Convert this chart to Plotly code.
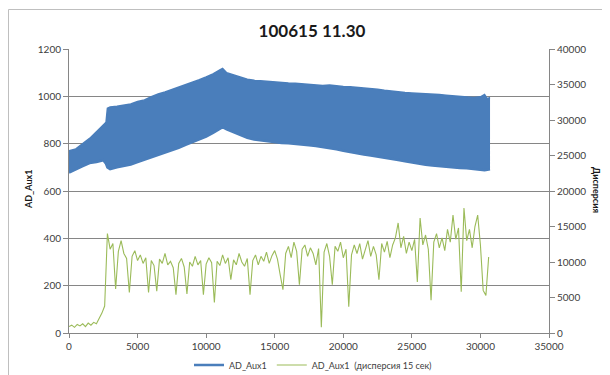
import plotly.graph_objects as go

# ---------------- data ----------------
title_text = "100615 11.30"
series_names = ["AD_Aux1", "AD_Aux1  (дисперсия 15 сек)"]

# AD_Aux1: envelope (min / max) of the dense oscillating signal
blue_x = [0, 500, 1000, 1500, 2000, 2500, 2700, 2800, 2900, 3000, 3500, 4000, 4500, 5000,
          5500, 6000, 6500, 7000, 7500, 8000, 8500, 9000, 9500, 10000, 10500, 11000,
          11200, 11500, 12000, 12500, 13000, 13500, 14000, 14500, 15000, 15500, 16000,
          16500, 17000, 17500, 18000, 18500, 19000, 19500, 20000, 20500, 21000, 21500,
          22000, 22500, 23000, 23500, 24000, 24500, 25000, 25500, 26000, 26500, 27000,
          27500, 28000, 28500, 29000, 29500, 30000, 30300, 30500, 30700]
blue_upper = [770, 778, 800, 822, 850, 880, 890, 950, 952, 955, 958, 962, 968, 978,
              985, 998, 1010, 1018, 1028, 1038, 1048, 1058, 1070, 1082, 1095, 1112,
              1118, 1100, 1090, 1080, 1072, 1068, 1065, 1062, 1060, 1058, 1056,
              1055, 1053, 1050, 1048, 1046, 1048, 1044, 1042, 1040, 1038, 1035,
              1032, 1030, 1026, 1022, 1018, 1016, 1014, 1013, 1012, 1012, 1008,
              1005, 1002, 1000, 997, 995, 998, 1008, 990, 995]
blue_lower = [678, 690, 705, 718, 722, 730, 715, 700, 695, 692, 700, 706, 712, 722,
              732, 740, 750, 762, 772, 782, 795, 806, 818, 830, 845, 862,
              870, 860, 848, 836, 825, 818, 814, 810, 806, 803, 802,
              800, 795, 793, 790, 786, 782, 776, 770, 764, 760, 754,
              750, 746, 740, 735, 731, 726, 720, 716, 711, 708, 705,
              702, 698, 697, 696, 693, 690, 688, 690, 692]

# AD_Aux1 dispersion (15 s), sampled every 200
green_step = 200
green_y = [900, 1100, 800, 1200, 1000, 1300, 900, 1400, 1100, 1500, 1300, 2000, 2800, 3800,
           14000,
           11800, 12600, 6200, 11500, 13000, 11200, 10500, 5700, 10800, 11600,
           10200, 11000, 9800, 10600, 5700, 10200, 9500, 5900, 10400, 9800,
           11200, 9600, 10100, 9200, 5400, 9800, 10500, 9300, 5500, 10000,
           9400, 10800, 9600, 10200, 5400, 9700, 10600, 9900, 4300, 10100,
           9500, 11000, 9800, 10600, 7500, 10300, 9600, 11200, 10000, 9400,
           10500, 5400, 10200, 11000, 9600, 10800, 10100, 11400, 9800, 10900,
           11600, 10400, 8200, 6100, 11200, 12200, 10600, 12800, 11500, 6800,
           11800, 12400, 10800, 12000, 11200, 9600, 11900, 800, 11400, 12600,
           10800, 6800, 12200, 11500, 12800, 10600, 11800, 3700, 11000, 12400,
           11200, 12600, 10400, 11800, 13000, 10800, 12200, 11000, 7500, 12600,
           11400, 12900, 10600, 12400, 13400, 15500, 12000, 13600, 11200, 12800,
           11600, 13200, 7200, 16200, 12400, 13800, 11800, 4600, 12800, 14000,
           12000, 13400, 11600, 14600, 12800, 16600, 13200, 14800, 5800, 17600,
           13000, 14600, 12000, 15000, 16600, 12400, 6000, 5300, 10700]
green_x = [i * green_step for i in range(len(green_y))]

x_ticks = [0, 5000, 10000, 15000, 20000, 25000, 30000, 35000]
y_left_ticks = [0, 200, 400, 600, 800, 1000, 1200]
y_right_ticks = [0, 5000, 10000, 15000, 20000, 25000, 30000, 35000, 40000]

# ---------------- styling ----------------
BLUE = "#4a7ebb"
GREEN = "#9bbb59"
AXIS = "#868686"
TICKC = "#404040"
FONT = "Lato, 'Liberation Sans', sans-serif"

# page body has an 8px margin: figure is placed at (8, 8) in the window
W, H = 602, 367
L, R, T, B = 61, 61, 41, 42
PW, PH = W - L - R, H - T - B      # 480 x 284


def px(page_x):
    return (page_x - 8 - L) / PW


def py(page_y):
    return (T + PH - (page_y - 8)) / PH


fig = go.Figure()
fig.add_trace(go.Scatter(x=blue_x, y=blue_lower, mode="lines", name=series_names[0],
                         line=dict(color=BLUE, width=2.5), showlegend=True,
                         legendrank=1))
fig.add_trace(go.Scatter(x=blue_x, y=blue_upper, mode="lines", name=series_names[0],
                         line=dict(color=BLUE, width=1.5), fill="tonexty",
                         fillcolor=BLUE, showlegend=False))
fig.add_trace(go.Scatter(x=green_x, y=green_y, mode="lines", name=series_names[1],
                         line=dict(color=GREEN, width=1.1), yaxis="y2", legendrank=2))

tickfont = dict(size=10, color=TICKC, family=FONT)

fig.update_layout(
    width=W, height=H,
    margin=dict(l=L, r=R, t=T, b=B, autoexpand=False),
    paper_bgcolor="white", plot_bgcolor="white",
    font=dict(family=FONT, size=10, color=TICKC),
    title=dict(text="<b>" + title_text + "</b>", xref="container", x=(312 - 8) / W,
               xanchor="center", y=1 - (31 - 8) / H, yanchor="middle",
               font=dict(size=17, color="#1a1a1a", family=FONT)),
    xaxis=dict(range=[0, 35000], tickvals=x_ticks, ticktext=[str(v) for v in x_ticks],
               ticks="outside", ticklen=4, automargin=False,
               tickcolor=AXIS, showline=True, linecolor=AXIS, linewidth=1,
               showgrid=False, zeroline=False, tickfont=tickfont),
    yaxis=dict(range=[0, 1200], tickvals=y_left_ticks,
               ticktext=[str(v) for v in y_left_ticks], ticks="outside", ticklen=5,
               automargin=False,
               tickcolor=AXIS, showline=True, linecolor=AXIS, linewidth=1,
               showgrid=True, gridcolor=AXIS, gridwidth=1, zeroline=False,
               tickfont=tickfont),
    yaxis2=dict(range=[0, 40000], tickvals=y_right_ticks,
                ticktext=[str(v) for v in y_right_ticks], overlaying="y", side="right",
                ticks="outside", ticklen=5, tickcolor=AXIS, showline=True,
                automargin=False,
                linecolor=AXIS, linewidth=1, showgrid=False, zeroline=False,
                tickfont=tickfont),
    legend=dict(orientation="h", x=px(313), xanchor="center", y=py(365), yanchor="middle",
                traceorder="normal", itemwidth=30,
                font=dict(size=9, color=TICKC), bgcolor="rgba(0,0,0,0)"),
    showlegend=True,
)

# axis titles
fig.add_annotation(text="<b>AD_Aux1</b>", xref="paper", yref="paper",
                   x=px(28), xanchor="center", y=py(190), yanchor="middle",
                   showarrow=False, textangle=-90,
                   font=dict(size=9, color="#1a1a1a", family=FONT))
fig.add_annotation(text="<b>Дисперсия</b>", xref="paper", yref="paper",
                   x=px(597), xanchor="center", y=py(190), yanchor="middle",
                   showarrow=False, textangle=90,
                   font=dict(size=9, color="#1a1a1a", family=FONT))

# outer chart-area border (top and left visible)
fig.add_shape(type="line", xref="paper", yref="paper",
              x0=px(8.5), x1=px(615), y0=py(9.5), y1=py(9.5),
              line=dict(color="#bfbfbf", width=1))
fig.add_shape(type="line", xref="paper", yref="paper",
              x0=px(8.5), x1=px(8.5), y0=py(9.5), y1=py(380),
              line=dict(color="#bfbfbf", width=1))

fig.write_html("out.html")
